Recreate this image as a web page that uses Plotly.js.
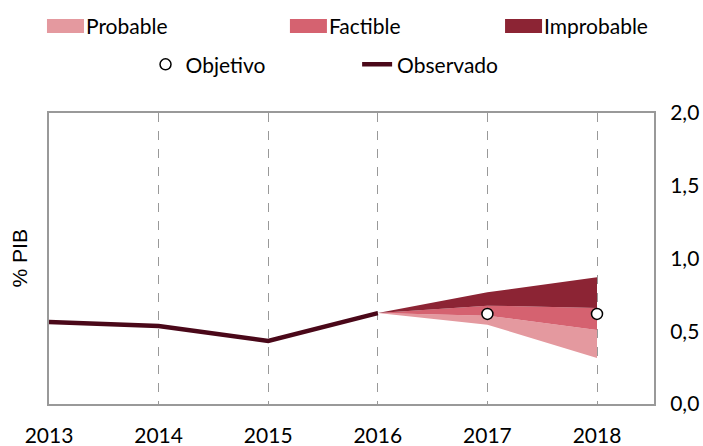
<!DOCTYPE html>
<html>
<head>
<meta charset="utf-8">
<script src="https://cdn.plot.ly/plotly-3.0.1.min.js"></script>
<style>
  html, body { margin: 0; padding: 0; background: #fff; }
  #chart { width: 703px; height: 446px; }
</style>
</head>
<body>
<div id="chart"></div>
<script>
// observed series
const yearsObs = [2013, 2014, 2015, 2016];
const observed = [0.564, 0.536, 0.433, 0.625];

// fan chart bands
const yearsFan = [2016, 2017, 2018];
const fanLow = [0.625, 0.545, 0.316];
const probableTop = [0.625, 0.607, 0.509];
const factibleTop = [0.625, 0.676, 0.660];
const improbableTop = [0.625, 0.768, 0.871];

// targets
const yearsTarget = [2017, 2018];
const target = [0.619, 0.619];

const tickYears = [2013, 2014, 2015, 2016, 2017, 2018];

const fontMain = 'Lato, "Open Sans", sans-serif';

// one legend box per entry so each can sit where the original has it
function legendBox(x, y) {
    return {
        orientation: 'h',
        xref: 'container', yref: 'container',
        x: x, y: y,
        xanchor: 'left', yanchor: 'top',
        traceorder: 'normal',
        font: {family: fontMain, size: 21, color: '#000'},
        bgcolor: 'rgba(0,0,0,0)'
    };
}

const traces = [
    {
        x: yearsFan, y: fanLow, type: 'scatter', mode: 'lines',
        line: {width: 0, color: 'rgba(0,0,0,0)'},
        showlegend: false, hoverinfo: 'skip'
    },
    {
        x: yearsFan, y: probableTop, type: 'scatter', mode: 'lines',
        fill: 'tonexty', fillcolor: '#E4999F',
        line: {width: 0, color: '#E4999F'},
        name: 'Probable', legend: 'legend'
    },
    {
        x: yearsFan, y: factibleTop, type: 'scatter', mode: 'lines',
        fill: 'tonexty', fillcolor: '#D56270',
        line: {width: 0, color: '#D56270'},
        name: 'Factible', legend: 'legend2'
    },
    {
        x: yearsFan, y: improbableTop, type: 'scatter', mode: 'lines',
        fill: 'tonexty', fillcolor: '#8C2434',
        line: {width: 0, color: '#8C2434'},
        name: 'Improbable', legend: 'legend3'
    },
    {
        x: yearsObs, y: observed, type: 'scatter', mode: 'lines',
        line: {width: 4.5, color: '#4A0819'},
        name: 'Observado', legend: 'legend5'
    },
    {
        x: yearsTarget, y: target, type: 'scatter', mode: 'markers',
        marker: {size: 11, color: '#fff', line: {width: 1.5, color: '#000'}},
        name: 'Objetivo', legend: 'legend4'
    }
];

const layout = {
    width: 703,
    height: 446,
    margin: {l: 49, r: 49, t: 113, b: 42},
    paper_bgcolor: '#fff',
    plot_bgcolor: '#fff',
    separators: ',.',
    font: {family: fontMain, size: 20, color: '#000'},
    showlegend: true,
    xaxis: {
        range: [2013, 2018.52],
        tickvals: tickYears,
        ticktext: tickYears.map(String),
        showgrid: true,
        gridcolor: '#999',
        griddash: 'dash',
        gridwidth: 1,
        showline: true,
        mirror: true,
        linecolor: '#999',
        linewidth: 2,
        zeroline: false,
        ticks: '',
        ticklabelstandoff: 12,
        tickfont: {family: fontMain, size: 21}
    },
    yaxis: {
        side: 'right',
        range: [0, 2],
        dtick: 0.5,
        tick0: 0,
        tickformat: '.1f',
        showgrid: false,
        zeroline: false,
        showline: true,
        mirror: true,
        linecolor: '#999',
        linewidth: 2,
        ticks: '',
        ticklabelstandoff: 10,
        tickfont: {family: fontMain, size: 21}
    },
    legend: legendBox(0.0654, 0.987),
    legend2: legendBox(0.411, 0.987),
    legend3: legendBox(0.717, 0.987),
    legend4: legendBox(0.207, 0.901),
    legend5: legendBox(0.508, 0.901),
    annotations: [{
        text: '% PIB',
        xref: 'paper', yref: 'paper',
        x: -0.048, y: 0.5,
        xanchor: 'center', yanchor: 'middle',
        textangle: -90,
        showarrow: false,
        font: {family: '"Liberation Sans", Arial, sans-serif', size: 21, color: '#000'}
    }]
};

Plotly.newPlot('chart', traces, layout, {displayModeBar: false, staticPlot: true}).then(function (gd) {
    // taller block swatches for the fan bands, like the original legend
    gd.querySelectorAll('.legendfill path').forEach(function (p) {
        p.setAttribute('d', 'M1,-7h37v14h-37z');
    });
});
</script>
</body>
</html>
